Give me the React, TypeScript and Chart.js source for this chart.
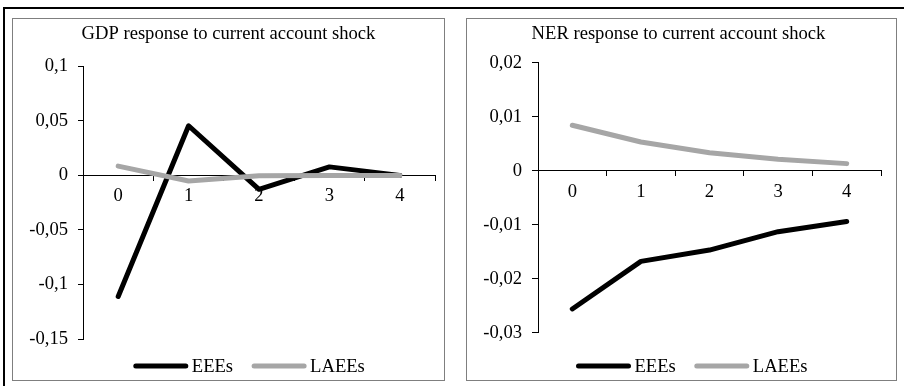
import React, { useEffect, useRef } from 'react';
import { Chart, registerables } from 'chart.js';

Chart.register(...registerables);

// ---------- data ----------
const categories = ['0', '1', '2', '3', '4'];
const seriesNames = ['EEEs', 'LAEEs'];

const gdpTitle = 'GDP response to current account shock';
const gdpEEEs = [-0.111, 0.0455, -0.0128, 0.0078, 0.0];
const gdpLAEEs = [0.0085, -0.0052, -0.0003, -0.0002, -0.0002];
const gdpTickValues = [-0.15, -0.1, -0.05, 0, 0.05, 0.1];

const nerTitle = 'NER response to current account shock';
const nerEEEs = [-0.0256, -0.0168, -0.0147, -0.0113, -0.0094];
const nerLAEEs = [0.0084, 0.0053, 0.0033, 0.0021, 0.0013];
const nerTickValues = [-0.03, -0.02, -0.01, 0, 0.01, 0.02];

// ---------- styles ----------
const FONT = "'Liberation Serif', 'Times New Roman', serif";
const FS = 18.6;
const BLACK = '#000000';
const GREY = '#a6a6a6';

const fmt = (v: number) => String(Math.round(v * 10000) / 10000).replace('.', ',');

const panelLegend = {
  id: 'panelLegend',
  afterDraw(chart: any, _args: any, opts: any) {
    const { ctx } = chart;
    let x = opts.x;
    const y = opts.y;
    ctx.save();
    ctx.font = `${FS}px ${FONT}`;
    ctx.textBaseline = 'middle';
    ctx.textAlign = 'left';
    chart.data.datasets.forEach((ds: any) => {
      ctx.strokeStyle = ds.borderColor;
      ctx.lineWidth = ds.borderWidth;
      ctx.lineCap = 'round';
      ctx.beginPath();
      ctx.moveTo(x, y);
      ctx.lineTo(x + opts.lineLen, y);
      ctx.stroke();
      const tx = x + opts.lineLen + opts.textGap;
      ctx.fillStyle = BLACK;
      ctx.fillText(ds.label, tx, y + 1);
      x = tx + ctx.measureText(ds.label).width + opts.itemGap;
    });
    ctx.restore();
  },
};

type PanelProps = {
  title: string;
  eees: number[];
  laees: number[];
  tickValues: number[];
  width: number;
  height: number;
  pad: { left: number; right: number; top: number; bottom: number };
  yAxisWidth: number;
  titleBottom: number;
  yTickLen: number;
  legendX: number;
};

function Panel(p: PanelProps) {
  const ref = useRef<HTMLCanvasElement | null>(null);
  useEffect(() => {
    if (!ref.current) return;
    const min = Math.min(...p.tickValues);
    const max = Math.max(...p.tickValues);
    const chart = new Chart(ref.current, {
      type: 'line',
      data: {
        labels: categories,
        datasets: [
          {
            label: seriesNames[0],
            data: p.eees,
            borderColor: BLACK,
            backgroundColor: BLACK,
            borderWidth: 5,
            pointRadius: 0,
            borderCapStyle: 'round',
            borderJoinStyle: 'round',
            tension: 0,
            order: 1,
          },
          {
            label: seriesNames[1],
            data: p.laees,
            borderColor: GREY,
            backgroundColor: GREY,
            borderWidth: 5,
            pointRadius: 0,
            borderCapStyle: 'round',
            borderJoinStyle: 'round',
            tension: 0,
            order: 0,
          },
        ],
      },
      options: {
        responsive: false,
        animation: false,
        devicePixelRatio: 1,
        layout: { padding: p.pad },
        plugins: {
          legend: { display: false },
          tooltip: { enabled: false },
          title: {
            display: true,
            text: p.title,
            color: BLACK,
            font: { family: FONT, size: FS, weight: 'normal', lineHeight: 1.2 },
            padding: { top: 4, bottom: p.titleBottom },
          },
          panelLegend: { x: p.legendX, y: 347, lineLen: 50, textGap: 6, itemGap: 21 },
        } as any,
        scales: {
          x: {
            type: 'category',
            position: { y: 0 } as any,
            offset: true,
            grid: {
              offset: true,
              drawOnChartArea: false,
              drawTicks: true,
              tickLength: 5,
              color: BLACK,
            },
            border: { display: true, color: BLACK, width: 1 },
            ticks: {
              color: BLACK,
              padding: 5,
              maxRotation: 0,
              font: { family: FONT, size: FS, lineHeight: 1.2 },
            },
          },
          y: {
            type: 'linear',
            position: 'left',
            min,
            max,
            afterBuildTicks: (axis: any) => {
              axis.ticks = p.tickValues.map((v) => ({ value: v }));
            },
            afterFit: (axis: any) => {
              axis.width = p.yAxisWidth;
            },
            grid: {
              drawOnChartArea: false,
              drawTicks: true,
              tickLength: p.yTickLen,
              color: BLACK,
            },
            border: { display: true, color: BLACK, width: 1 },
            ticks: {
              color: BLACK,
              padding: 10,
              font: { family: FONT, size: FS, lineHeight: 1.2 },
              callback: (v: any) => fmt(Number(v)),
            },
          },
        },
      },
      plugins: [panelLegend as any],
    });
    return () => chart.destroy();
  }, []);
  return <canvas ref={ref} width={p.width} height={p.height} style={{ display: 'block', width: p.width, height: p.height }} />;
}

export default function App() {
  return (
    <div
      style={{
        position: 'fixed',
        left: 0,
        top: 0,
        width: 904,
        height: 386,
        overflow: 'hidden',
        background: '#ffffff',
      }}
    >
      <div
        style={{
          position: 'absolute',
          left: 3,
          top: 7,
          width: 940,
          height: 420,
          borderTop: '2px solid #000',
          borderLeft: '2px solid #000',
        }}
      />
      <div
        style={{
          position: 'absolute',
          left: 12,
          top: 18,
          width: 433,
          height: 363,
          boxSizing: 'border-box',
          border: '1px solid #7f7f7f',
        }}
      />
      <div style={{ position: 'absolute', left: 13, top: 19 }}>
        <Panel
          title={gdpTitle}
          eees={gdpEEEs}
          laees={gdpLAEEs}
          tickValues={gdpTickValues}
          width={431}
          height={361}
          pad={{ left: 9, right: 9, top: 0, bottom: 41 }}
          yAxisWidth={61}
          titleBottom={21}
          yTickLen={5}
          legendX={122.8}
        />
      </div>
      <div
        style={{
          position: 'absolute',
          left: 466,
          top: 18,
          width: 431,
          height: 363,
          boxSizing: 'border-box',
          border: '1px solid #7f7f7f',
        }}
      />
      <div style={{ position: 'absolute', left: 467, top: 19 }}>
        <Panel
          title={nerTitle}
          eees={nerEEEs}
          laees={nerLAEEs}
          tickValues={nerTickValues}
          width={429}
          height={361}
          pad={{ left: 9, right: 15, top: 0, bottom: 47.3 }}
          yAxisWidth={62}
          titleBottom={17.3}
          yTickLen={6}
          legendX={111.5}
        />
      </div>
    </div>
  );
}
